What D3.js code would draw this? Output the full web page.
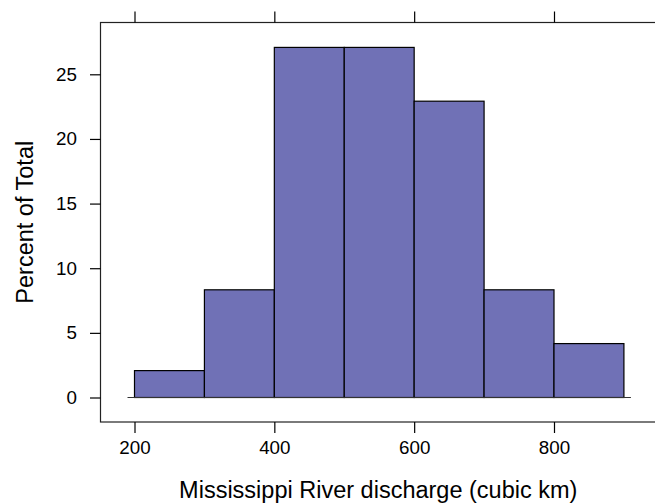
<!DOCTYPE html>
<html>
<head>
<meta charset="utf-8">
<script src="https://cdn.jsdelivr.net/npm/d3@7"></script>
<style>
  body { margin: 0; background: #fff; }
  svg { display: block; font-family: "Liberation Sans", Arial, Helvetica, sans-serif; }
</style>
</head>
<body>
<div id="chart"></div>
<script>
// Histogram of Mississippi River discharge
const binStarts = [200, 300, 400, 500, 600, 700, 800];
const binWidth = 100;
const percents = [2.08, 8.33, 27.08, 27.08, 22.92, 8.33, 4.17];
const xTicks = [200, 400, 600, 800];
const yTicks = [0, 5, 10, 15, 20, 25];

const chartW = 655, chartH = 504;
const panel = { left: 100.5, right: 656, top: 22.5, bottom: 422 };
const tickFont = 18.8, titleFont = 23.5;

const svg = d3.select('#chart')
    .append('svg')
    .attr('width', chartW)
    .attr('height', chartH);

// Scales measured from the panel
const x = d3.scaleLinear().domain([200, 800]).range([134.5, 554]);
const y = d3.scaleLinear().domain([0, 25]).range([397.5, 74.3]);

// Bars
svg.selectAll('.bar')
    .data(binStarts)
    .enter()
    .append('rect')
    .attr('class', 'bar')
    .attr('x', d => x(d))
    .attr('y', (d, i) => y(percents[i]))
    .attr('width', d => x(d + binWidth) - x(d))
    .attr('height', (d, i) => y(0) - y(percents[i]))
    .attr('fill', '#7071b6')
    .attr('stroke', '#000')
    .attr('stroke-width', 1.2);

// Baseline under the bars
svg.append('line')
    .attr('x1', x(binStarts[0] - 10))
    .attr('x2', x(binStarts[binStarts.length - 1] + binWidth + 10))
    .attr('y1', y(0))
    .attr('y2', y(0))
    .attr('stroke', '#333')
    .attr('stroke-width', 1.2);

// Panel border
svg.append('rect')
    .attr('x', panel.left)
    .attr('y', panel.top)
    .attr('width', panel.right - panel.left)
    .attr('height', panel.bottom - panel.top)
    .attr('fill', 'none')
    .attr('stroke', '#222')
    .attr('stroke-width', 1.2);

// Bottom axis: ticks and labels
const bottomAxis = svg.append('g')
    .attr('transform', `translate(0,${panel.bottom})`)
    .call(d3.axisBottom(x).tickValues(xTicks).tickSize(11).tickPadding(8));
bottomAxis.select('.domain').remove();
bottomAxis.selectAll('text').attr('font-size', tickFont).attr('fill', '#000').attr('font-family', null);
bottomAxis.selectAll('line').attr('stroke', '#000').attr('stroke-width', 1.2);

// Top axis: ticks only
const topAxis = svg.append('g')
    .attr('transform', `translate(0,${panel.top})`)
    .call(d3.axisTop(x).tickValues(xTicks).tickSize(11).tickFormat(''));
topAxis.select('.domain').remove();
topAxis.selectAll('line').attr('stroke', '#000').attr('stroke-width', 1.2);

// Left axis
const leftAxis = svg.append('g')
    .attr('transform', `translate(${panel.left},0)`)
    .call(d3.axisLeft(y).tickValues(yTicks).tickSize(10.5).tickPadding(13));
leftAxis.select('.domain').remove();
leftAxis.selectAll('text').attr('font-size', tickFont).attr('fill', '#000').attr('font-family', null);
leftAxis.selectAll('line').attr('stroke', '#000').attr('stroke-width', 1.2);

// Axis titles
svg.append('text')
    .attr('x', (panel.left + panel.right) / 2)
    .attr('y', 498)
    .attr('text-anchor', 'middle')
    .attr('font-size', titleFont)
    .text('Mississippi River discharge (cubic km)');

svg.append('text')
    .attr('transform', `translate(33.3,${(panel.top + panel.bottom) / 2}) rotate(-90)`)
    .attr('text-anchor', 'middle')
    .attr('font-size', titleFont)
    .text('Percent of Total');
</script>
</body>
</html>
